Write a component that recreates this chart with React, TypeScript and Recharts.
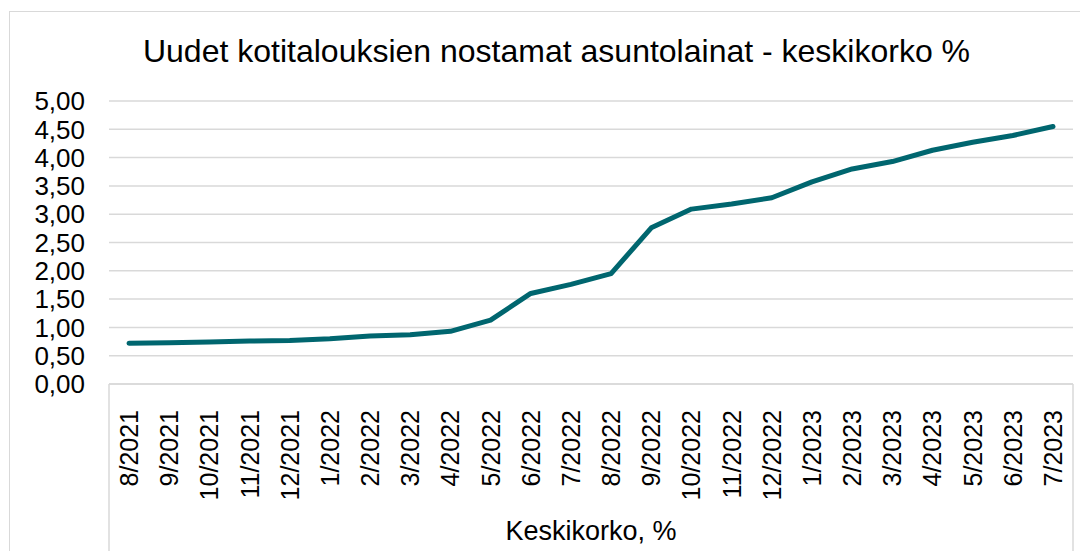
import { LineChart, Line, XAxis, YAxis, CartesianGrid } from "recharts";

const months = [
  "8/2021", "9/2021", "10/2021", "11/2021", "12/2021", "1/2022", "2/2022", "3/2022",
  "4/2022", "5/2022", "6/2022", "7/2022", "8/2022", "9/2022", "10/2022", "11/2022",
  "12/2022", "1/2023", "2/2023", "3/2023", "4/2023", "5/2023", "6/2023", "7/2023",
];

const keskikorko = [
  0.72, 0.73, 0.74, 0.76, 0.77, 0.8, 0.85, 0.87, 0.93, 1.13, 1.6, 1.76,
  1.95, 2.76, 3.09, 3.18, 3.29, 3.57, 3.8, 3.93, 4.13, 4.27, 4.39, 4.55,
];

const yTicks = [0, 0.5, 1, 1.5, 2, 2.5, 3, 3.5, 4, 4.5, 5];

const data = months.map((m, i) => ({ month: m, value: keskikorko[i] }));

const FONT = '"Liberation Sans", Arial, sans-serif';
const GRID = "#d9d9d9";

const fmt = (v: number) => v.toFixed(2).replace(".", ",");

const MonthTick = (props: any) => {
  const { x, y, payload } = props;
  return (
    <text
      x={x}
      y={y + 18}
      transform={`rotate(-90, ${x}, ${y + 18})`}
      textAnchor="end"
      dy="0.36em"
      fontSize={25}
      fontFamily={FONT}
      fill="#000"
    >
      {payload.value}
    </text>
  );
};

const GroupLabel = (props: any) => {
  const vb = props.viewBox || {};
  const { x = 0, y = 0, width = 0 } = vb;
  return (
    <g>
      <line x1={x} y1={y} x2={x} y2={y + 170} stroke={GRID} strokeWidth={1.5} />
      <line x1={x + width} y1={y} x2={x + width} y2={y + 170} stroke={GRID} strokeWidth={1.5} />
      <text x={x + width / 2} y={y + 156} textAnchor="middle" fontSize={27} fontFamily={FONT} fill="#000">
        Keskikorko, %
      </text>
    </g>
  );
};

export default function App() {
  return (
    <div style={{ position: "relative", width: 1080, height: 543, overflow: "hidden" }}>
      <div
        style={{
          position: "absolute",
          left: 1,
          top: 3,
          width: 1200,
          height: 700,
          border: `1.5px solid ${GRID}`,
        }}
      />
      <div
        style={{
          position: "absolute",
          left: 0,
          top: 27,
          width: 1097,
          textAlign: "center",
          fontFamily: FONT,
          fontSize: 32,
          lineHeight: "32px",
          color: "#000",
        }}
      >
        Uudet kotitalouksien nostamat asuntolainat - keskikorko %
      </div>
      <LineChart
        width={1080}
        height={543}
        data={data}
        margin={{ top: 93, right: 15, left: 0, bottom: 0 }}
        style={{ position: "absolute", left: 0, top: 0 }}
      >
        <CartesianGrid vertical={false} stroke={GRID} strokeWidth={1.5} />
        <XAxis
          dataKey="month"
          interval={0}
          height={167}
          padding={{ left: 20, right: 20 }}
          axisLine={{ stroke: GRID, strokeWidth: 1.5 }}
          tickLine={false}
          tick={<MonthTick />}
          label={{ content: <GroupLabel /> }}
        />
        <YAxis
          width={101}
          domain={[0, 5]}
          ticks={yTicks}
          interval={0}
          tickFormatter={fmt}
          axisLine={false}
          tickLine={false}
          tickSize={0}
          tickMargin={24}
          tick={{ fontSize: 26, fontFamily: FONT, fill: "#000" }}
        />
        <Line
          dataKey="value"
          type="linear"
          stroke="#00666f"
          strokeWidth={5}
          strokeLinecap="round"
          strokeLinejoin="round"
          dot={false}
          activeDot={false}
          isAnimationActive={false}
        />
      </LineChart>
    </div>
  );
}
